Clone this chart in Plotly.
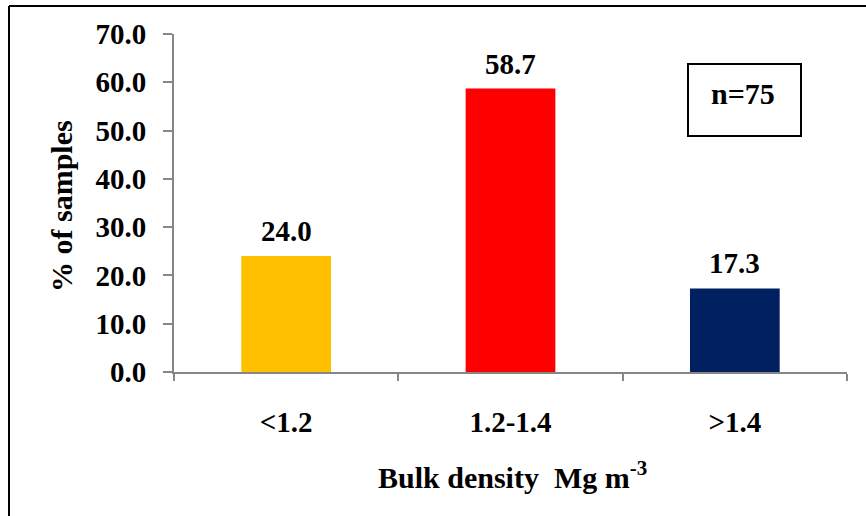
import plotly.graph_objects as go

categories = ["<1.2", "1.2-1.4", ">1.4"]
values = [24.0, 58.7, 17.3]
bar_colors = ["#FFC000", "#FF0000", "#002060"]
y_ticks = [0, 10, 20, 30, 40, 50, 60, 70]

FONT = "Liberation Serif"
FS = 29
FT = 30
fig = go.Figure()
fig.add_trace(go.Bar(x=categories, y=values, marker=dict(color=bar_colors, line=dict(width=0)),
                     hoverinfo="skip"))

for c, v in zip(categories, values):
    fig.add_annotation(x=c, y=v, text=f"<b>{v:.1f}</b>", showarrow=False, xanchor="center",
                       yanchor="bottom", yshift=7, font=dict(family=FONT, size=FS, color="black"))

W, H = 866, 516
L, R, T, B = 174, 19, 34, 144
pw, ph = W - L - R, H - T - B

def px(x):
    return (x - L) / pw

def py(y):
    return (H - B - y) / ph

# outer frame (top and left edges visible)
fig.add_shape(type="line", xref="paper", yref="paper", x0=px(9), x1=px(900), y0=py(6), y1=py(6),
              line=dict(color="black", width=2))
fig.add_shape(type="line", xref="paper", yref="paper", x0=px(9), x1=px(9), y0=py(6), y1=py(560),
              line=dict(color="black", width=2))
# n=75 box
fig.add_shape(type="rect", xref="paper", yref="paper", x0=px(688), x1=px(801), y0=py(136), y1=py(64),
              line=dict(color="black", width=2))
fig.add_annotation(xref="paper", yref="paper", x=px(743), y=py(93), text="<b>n=75</b>", showarrow=False,
                   xanchor="center", yanchor="middle", font=dict(family=FONT, size=FT, color="black"))
# axis titles
fig.add_annotation(xref="paper", yref="paper", x=px(62), y=py(206), text="<b>% of samples</b>",
                   textangle=-90, showarrow=False, xanchor="center", yanchor="middle",
                   font=dict(family=FONT, size=FT, color="black"))
fig.add_annotation(xref="paper", yref="paper", x=px(512), y=py(475),
                   text="<b>Bulk density&nbsp; Mg m<sup>-3</sup></b>", showarrow=False,
                   xanchor="center", yanchor="middle",
                   font=dict(family=FONT, size=FT, color="black"))

fig.update_layout(
    width=W, height=H, margin=dict(l=L, r=R, t=T, b=B),
    paper_bgcolor="white", plot_bgcolor="white", showlegend=False, bargap=0.6,
    font=dict(family=FONT, size=FS, color="black"),
    xaxis=dict(type="category", showline=True, linecolor="#868686", linewidth=2,
               ticks="outside", tickson="boundaries", ticklen=7, tickcolor="#868686", tickwidth=2,
               tickfont=dict(family=FONT, size=FS, color="black", weight="bold"), ticklabelstandoff=23,
               showgrid=False, zeroline=False),
    yaxis=dict(range=[0, 70], tickvals=y_ticks, tickformat=".1f", showline=True, linecolor="#868686",
               linewidth=2, ticks="outside", ticklen=9, tickcolor="#868686", tickwidth=2,
               tickfont=dict(family=FONT, size=FS, color="black", weight="bold"), ticklabelstandoff=11,
               showgrid=False, zeroline=False),
)

fig.write_html("out.html")
